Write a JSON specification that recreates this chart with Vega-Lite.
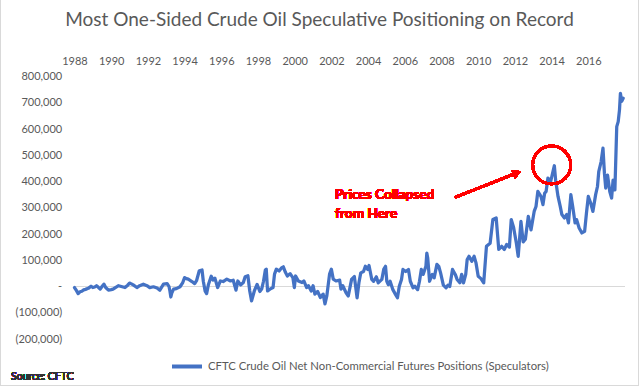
{
  "$schema": "https://vega.github.io/schema/vega-lite/v6.json",
  "width": 550.5,
  "height": 262.5,
  "autosize": {"type": "none"},
  "padding": {"left": 74.5, "top": 76.5, "right": 15, "bottom": 48},
  "background": "white",
  "config": {"view": {"stroke": null}, "font": "Lato", "axis": {"labelOverlap": false}},
  "title": {
    "text": "Most One-Sided Crude Oil Speculative Positioning on Record",
    "font": "Lato",
    "fontSize": 19,
    "fontWeight": "normal",
    "color": "#595959",
    "anchor": "middle",
    "frame": "bounds",
    "offset": -31
  },
  "datasets": {
    "cot": [
      {"year": 1988.00, "value": -4000}, {"year": 1988.10, "value": -15000}, {"year": 1988.20, "value": -27000},
      {"year": 1988.30, "value": -20000}, {"year": 1988.40, "value": -18000}, {"year": 1988.50, "value": -13000},
      {"year": 1988.60, "value": -11000}, {"year": 1988.75, "value": -7000}, {"year": 1988.90, "value": 1000},
      {"year": 1989.00, "value": -4000}, {"year": 1989.10, "value": -2000}, {"year": 1989.20, "value": 3000},
      {"year": 1989.30, "value": -3000}, {"year": 1989.40, "value": -10000}, {"year": 1989.50, "value": 0},
      {"year": 1989.60, "value": 9000}, {"year": 1989.70, "value": -4000}, {"year": 1989.85, "value": -14000},
      {"year": 1990.00, "value": -12000}, {"year": 1990.10, "value": -10000}, {"year": 1990.25, "value": -3000},
      {"year": 1990.40, "value": 3000}, {"year": 1990.55, "value": 0}, {"year": 1990.75, "value": -4000},
      {"year": 1990.90, "value": 5000}, {"year": 1991.00, "value": 13000}, {"year": 1991.10, "value": 10000},
      {"year": 1991.20, "value": 6000}, {"year": 1991.40, "value": -4000}, {"year": 1991.55, "value": 3000},
      {"year": 1991.75, "value": 9000}, {"year": 1991.95, "value": 3000}, {"year": 1992.10, "value": -4000},
      {"year": 1992.30, "value": -1000}, {"year": 1992.50, "value": -6000}, {"year": 1992.65, "value": -14000},
      {"year": 1992.85, "value": 9000}, {"year": 1993.05, "value": 11000}, {"year": 1993.15, "value": 0},
      {"year": 1993.20, "value": -17000}, {"year": 1993.25, "value": -40000}, {"year": 1993.30, "value": -25000},
      {"year": 1993.40, "value": -10000}, {"year": 1993.55, "value": -8000}, {"year": 1993.75, "value": -1000},
      {"year": 1993.90, "value": 15000}, {"year": 1994.00, "value": 34000}, {"year": 1994.10, "value": 30000},
      {"year": 1994.20, "value": 28000}, {"year": 1994.40, "value": 19000}, {"year": 1994.55, "value": 11000},
      {"year": 1994.65, "value": 22000}, {"year": 1994.80, "value": 60000}, {"year": 1994.95, "value": 63000},
      {"year": 1995.02, "value": 20000}, {"year": 1995.12, "value": -18000}, {"year": 1995.20, "value": -27000},
      {"year": 1995.30, "value": 8000}, {"year": 1995.45, "value": 39000}, {"year": 1995.55, "value": 25000},
      {"year": 1995.65, "value": 32000}, {"year": 1995.80, "value": -4000}, {"year": 1995.95, "value": 21000},
      {"year": 1996.10, "value": 19000}, {"year": 1996.30, "value": 28000}, {"year": 1996.50, "value": 21000},
      {"year": 1996.65, "value": 24000}, {"year": 1996.80, "value": -14000}, {"year": 1996.90, "value": 21000},
      {"year": 1997.05, "value": 6000}, {"year": 1997.20, "value": 15000}, {"year": 1997.30, "value": 37000},
      {"year": 1997.45, "value": 41000}, {"year": 1997.55, "value": -17000}, {"year": 1997.65, "value": -55000},
      {"year": 1997.80, "value": -17000}, {"year": 1997.95, "value": 8000}, {"year": 1998.10, "value": -19000},
      {"year": 1998.20, "value": -10000}, {"year": 1998.30, "value": 20000}, {"year": 1998.40, "value": 63000},
      {"year": 1998.45, "value": 66000}, {"year": 1998.52, "value": -17000}, {"year": 1998.65, "value": -10000},
      {"year": 1998.82, "value": -4000}, {"year": 1998.90, "value": 47000}, {"year": 1999.00, "value": 66000},
      {"year": 1999.15, "value": 59000}, {"year": 1999.30, "value": 72000}, {"year": 1999.38, "value": 75000},
      {"year": 1999.50, "value": 53000}, {"year": 1999.60, "value": 40000}, {"year": 1999.75, "value": 49000},
      {"year": 1999.90, "value": 34000}, {"year": 1999.98, "value": -4000}, {"year": 2000.05, "value": 40000},
      {"year": 2000.20, "value": 21000}, {"year": 2000.40, "value": 15000}, {"year": 2000.50, "value": 21000},
      {"year": 2000.65, "value": -4000}, {"year": 2000.75, "value": 3000}, {"year": 2000.90, "value": -17000},
      {"year": 2001.00, "value": 3000}, {"year": 2001.10, "value": -29000}, {"year": 2001.25, "value": -19000},
      {"year": 2001.40, "value": -42000}, {"year": 2001.55, "value": -29000}, {"year": 2001.65, "value": -66000},
      {"year": 2001.75, "value": -36000}, {"year": 2001.90, "value": 47000}, {"year": 2002.00, "value": 66000},
      {"year": 2002.10, "value": 28000}, {"year": 2002.25, "value": 21000}, {"year": 2002.45, "value": 24000},
      {"year": 2002.52, "value": -10000}, {"year": 2002.62, "value": 3000}, {"year": 2002.80, "value": -24000},
      {"year": 2002.92, "value": -36000}, {"year": 2003.10, "value": 27000}, {"year": 2003.25, "value": 38000},
      {"year": 2003.40, "value": -43000}, {"year": 2003.50, "value": 14000}, {"year": 2003.60, "value": 52000},
      {"year": 2003.75, "value": 57000}, {"year": 2003.85, "value": 77000}, {"year": 2003.97, "value": 65000},
      {"year": 2004.05, "value": 80000}, {"year": 2004.20, "value": 27000}, {"year": 2004.30, "value": 20000},
      {"year": 2004.45, "value": 37000}, {"year": 2004.55, "value": 14000}, {"year": 2004.75, "value": 27000},
      {"year": 2004.85, "value": 65000}, {"year": 2004.95, "value": 77000}, {"year": 2005.02, "value": 20000},
      {"year": 2005.10, "value": 7000}, {"year": 2005.20, "value": 20000}, {"year": 2005.35, "value": -12000},
      {"year": 2005.50, "value": -31000}, {"year": 2005.60, "value": -43000}, {"year": 2005.70, "value": 1000},
      {"year": 2005.82, "value": 27000}, {"year": 2005.90, "value": 65000}, {"year": 2006.05, "value": 57000},
      {"year": 2006.20, "value": 65000}, {"year": 2006.30, "value": 20000}, {"year": 2006.45, "value": -5000},
      {"year": 2006.55, "value": 1000}, {"year": 2006.70, "value": -12000}, {"year": 2006.80, "value": 20000},
      {"year": 2006.90, "value": 65000}, {"year": 2007.00, "value": 46000}, {"year": 2007.15, "value": 77000},
      {"year": 2007.20, "value": 127000}, {"year": 2007.25, "value": 108000}, {"year": 2007.35, "value": 20000},
      {"year": 2007.50, "value": 46000}, {"year": 2007.60, "value": 33000}, {"year": 2007.75, "value": 84000},
      {"year": 2007.85, "value": 77000}, {"year": 2007.95, "value": 52000}, {"year": 2008.10, "value": 5000},
      {"year": 2008.25, "value": -5000}, {"year": 2008.35, "value": 5000}, {"year": 2008.45, "value": 0},
      {"year": 2008.60, "value": 65000}, {"year": 2008.75, "value": 46000}, {"year": 2008.85, "value": 27000},
      {"year": 2009.00, "value": 14000}, {"year": 2009.10, "value": 46000}, {"year": 2009.20, "value": 14000},
      {"year": 2009.32, "value": 46000}, {"year": 2009.40, "value": 103000}, {"year": 2009.50, "value": 115000},
      {"year": 2009.65, "value": 96000}, {"year": 2009.78, "value": 115000}, {"year": 2009.88, "value": 90000},
      {"year": 2010.00, "value": 39000}, {"year": 2010.15, "value": 30000}, {"year": 2010.30, "value": 14000},
      {"year": 2010.45, "value": 153000}, {"year": 2010.65, "value": 165000}, {"year": 2010.80, "value": 255000},
      {"year": 2010.98, "value": 261000}, {"year": 2011.12, "value": 141000}, {"year": 2011.28, "value": 153000},
      {"year": 2011.42, "value": 141000}, {"year": 2011.55, "value": 160000}, {"year": 2011.70, "value": 150000},
      {"year": 2011.80, "value": 255000}, {"year": 2011.93, "value": 225000}, {"year": 2012.08, "value": 165000},
      {"year": 2012.18, "value": 115000}, {"year": 2012.33, "value": 248000}, {"year": 2012.45, "value": 170000},
      {"year": 2012.57, "value": 180000}, {"year": 2012.73, "value": 267000}, {"year": 2012.88, "value": 216000},
      {"year": 2013.05, "value": 286000}, {"year": 2013.15, "value": 305000}, {"year": 2013.25, "value": 362000},
      {"year": 2013.42, "value": 343000}, {"year": 2013.53, "value": 312000}, {"year": 2013.62, "value": 355000},
      {"year": 2013.70, "value": 362000}, {"year": 2013.80, "value": 413000}, {"year": 2013.95, "value": 400000},
      {"year": 2014.08, "value": 440000}, {"year": 2014.15, "value": 460000}, {"year": 2014.22, "value": 405000},
      {"year": 2014.35, "value": 343000}, {"year": 2014.47, "value": 305000}, {"year": 2014.56, "value": 274000},
      {"year": 2014.70, "value": 261000}, {"year": 2014.82, "value": 274000}, {"year": 2014.92, "value": 242000},
      {"year": 2015.05, "value": 350000}, {"year": 2015.15, "value": 305000}, {"year": 2015.28, "value": 242000},
      {"year": 2015.36, "value": 255000}, {"year": 2015.50, "value": 223000}, {"year": 2015.65, "value": 204000},
      {"year": 2015.80, "value": 210000}, {"year": 2015.90, "value": 280000}, {"year": 2016.00, "value": 343000},
      {"year": 2016.13, "value": 318000}, {"year": 2016.25, "value": 286000}, {"year": 2016.40, "value": 350000},
      {"year": 2016.50, "value": 381000}, {"year": 2016.57, "value": 438000}, {"year": 2016.70, "value": 476000},
      {"year": 2016.80, "value": 527000}, {"year": 2016.88, "value": 430000}, {"year": 2016.95, "value": 375000},
      {"year": 2017.05, "value": 424000}, {"year": 2017.17, "value": 362000}, {"year": 2017.27, "value": 337000},
      {"year": 2017.35, "value": 405000}, {"year": 2017.45, "value": 368000}, {"year": 2017.55, "value": 609000},
      {"year": 2017.63, "value": 628000}, {"year": 2017.70, "value": 673000}, {"year": 2017.75, "value": 736000},
      {"year": 2017.82, "value": 705000}, {"year": 2017.90, "value": 717000}
    ]
  },
  "data": {"name": "cot"},
  "layer": [
    {
      "mark": {"type": "rule", "color": "#d9d9d9", "strokeWidth": 1},
      "encoding": {"y": {"datum": 0, "type": "quantitative"}}
    },
    {
      "mark": {"type": "line", "strokeWidth": 3.25, "strokeJoin": "round", "strokeCap": "round"},
      "encoding": {
        "x": {
          "field": "year",
          "type": "quantitative",
          "scale": {"domain": [1988, 2018], "nice": false, "zero": false},
          "axis": {
            "orient": "top",
            "values": [1988, 1990, 1992, 1994, 1996, 1998, 2000, 2002, 2004, 2006, 2008, 2010, 2012, 2014, 2016],
            "tickCount": 40,
            "format": "d",
            "labelOverlap": false,
            "labelFlush": false,
            "labelColor": "#595959",
            "labelFont": "Lato",
            "labelFontSize": 11,
            "labelPadding": 10.2,
            "domain": false,
            "ticks": false,
            "tickSize": 0,
            "grid": false,
            "title": null
          }
        },
        "y": {
          "field": "value",
          "type": "quantitative",
          "scale": {"domain": [-200000, 800000], "nice": false},
          "axis": {
            "values": [-200000, -100000, 0, 100000, 200000, 300000, 400000, 500000, 600000, 700000, 800000],
            "tickCount": 40,
            "labelExpr": "datum.value == 0 ? '-\u00a0\u00a0\u00a0\u00a0' : (datum.value < 0 ? '(' + format(-datum.value, ',') + ')' : format(datum.value, ',') + '\u00a0')",
            "labelOverlap": false,
            "labelFlush": false,
            "labelColor": "#595959",
            "labelFont": "Lato",
            "labelFontSize": 11,
            "labelPadding": 12.8,
            "domain": false,
            "ticks": false,
            "tickSize": 0,
            "grid": false,
            "title": null
          }
        },
        "color": {
          "datum": "CFTC Crude Oil Net Non-Commercial Futures Positions (Speculators)",
          "scale": {"range": ["#4472C4"]},
          "legend": {
            "orient": "none",
            "legendX": 95.5,
            "legendY": 273,
            "title": null,
            "symbolType": "stroke",
            "symbolSize": 900,
            "symbolStrokeWidth": 4,
            "labelFont": "Lato",
            "labelFontSize": 11.3,
            "labelColor": "#595959",
            "labelOffset": 4,
            "labelLimit": 0
          }
        }
      }
    },
    {
      "mark": {"type": "point", "shape": "circle", "filled": false, "size": 1444, "stroke": "#FF0000", "strokeWidth": 2.5, "opacity": 1},
      "encoding": {
        "x": {"datum": 2014.006, "type": "quantitative"},
        "y": {"datum": 462857, "type": "quantitative"}
      }
    },
    {
      "mark": {"type": "rule", "color": "#FF0000", "strokeWidth": 2.5},
      "encoding": {
        "x": {"datum": 2008.74, "type": "quantitative"},
        "y": {"datum": 339810, "type": "quantitative"},
        "x2": {"datum": 2012.117},
        "y2": {"datum": 433143}
      }
    },
    {
      "mark": {"type": "point", "shape": "triangle-up", "filled": true, "size": 90, "color": "#FF0000", "opacity": 1, "angle": 68.5},
      "encoding": {
        "x": {"datum": 2012.117, "type": "quantitative"},
        "y": {"datum": 433143, "type": "quantitative"}
      }
    },
    {
      "mark": {"type": "text", "text": ["Prices Collapsed", "from Here"], "align": "left", "baseline": "alphabetic", "font": "Lato", "fontWeight": "bold", "fontSize": 13.7, "color": "#FF0000", "lineHeight": 18.7},
      "encoding": {
        "x": {"datum": 2002.196, "type": "quantitative"},
        "y": {"datum": 333000, "type": "quantitative"}
      }
    },
    {
      "mark": {"type": "text", "text": "Source: CFTC", "align": "left", "baseline": "alphabetic", "font": "Lato", "fontWeight": "normal", "fontSize": 10.5, "color": "#333333"},
      "encoding": {
        "x": {"datum": 1984.54, "type": "quantitative"},
        "y": {"datum": -358095, "type": "quantitative"}
      }
    },
    {
      "mark": {"type": "rect", "fillOpacity": 0, "stroke": "#d9d9d9", "strokeWidth": 1},
      "encoding": {
        "x": {"datum": 1983.967, "type": "quantitative"},
        "x2": {"datum": 2018.736},
        "y": {"datum": 1093333, "type": "quantitative"},
        "y2": {"datum": -377143}
      }
    }
  ]
}
